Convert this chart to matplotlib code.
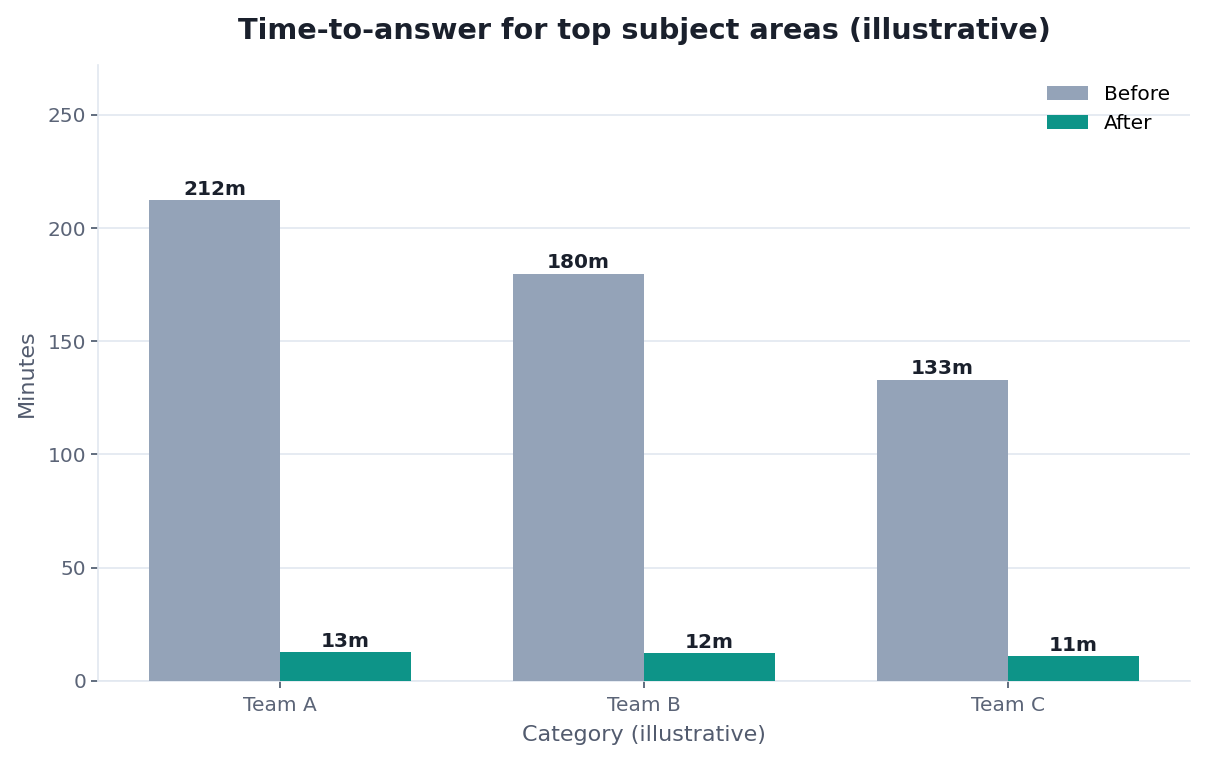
import numpy as np
import matplotlib.pyplot as plt

# Chart data
categories = ["Team A", "Team B", "Team C"]
before_minutes = [212.4, 179.8, 133.1]
after_minutes = [12.7, 12.3, 10.9]

fig = plt.figure(figsize=(12.06, 7.6), dpi=100)
ax = fig.add_axes([0.0813, 0.104, 0.9054, 0.8105])

x = np.arange(len(categories))
width = 0.36

bars_before = ax.bar(x - width / 2, before_minutes, width, color="#94a3b8", label="Before", zorder=3)
bars_after = ax.bar(x + width / 2, after_minutes, width, color="#0d9488", label="After", zorder=3)

# value labels on top of bars
for bars in (bars_before, bars_after):
    for b in bars:
        h = b.get_height()
        ax.text(b.get_x() + b.get_width() / 2, h + 0.6, f"{h:.0f}m",
                ha="center", va="bottom", fontsize=14.5, fontweight="bold", color="#1a202c")

ax.set_xlim(-0.5, 2.5)
ax.set_ylim(0, 272)
ax.set_xticks(x)
ax.set_xticklabels(categories)
ax.set_yticks([0, 50, 100, 150, 200, 250])

ax.set_title("Time-to-answer for top subject areas (illustrative)",
             fontsize=20.7, fontweight="bold", color="#1a202c", pad=19)
ax.set_xlabel("Category (illustrative)", fontsize=16, color="#525b6e", labelpad=7)
ax.set_ylabel("Minutes", fontsize=16, color="#525b6e", labelpad=8)

ax.grid(axis="y", color="#e2e8f0", linewidth=1.2, zorder=0)
ax.set_axisbelow(True)
for side in ("top", "right"):
    ax.spines[side].set_visible(False)
for side in ("left", "bottom"):
    ax.spines[side].set_color("#e2e8f0")
    ax.spines[side].set_linewidth(1.2)
ax.tick_params(axis="both", labelsize=14.5, labelcolor="#5b6477", color="#475569", length=5, width=1.2)
ax.tick_params(axis="x", pad=6)

ax.legend(frameon=False, fontsize=14.5, loc="upper right", handlelength=2.0,
          handleheight=0.7, labelspacing=0.5, borderaxespad=0.6)

fig.savefig("out.png", dpi=100)
